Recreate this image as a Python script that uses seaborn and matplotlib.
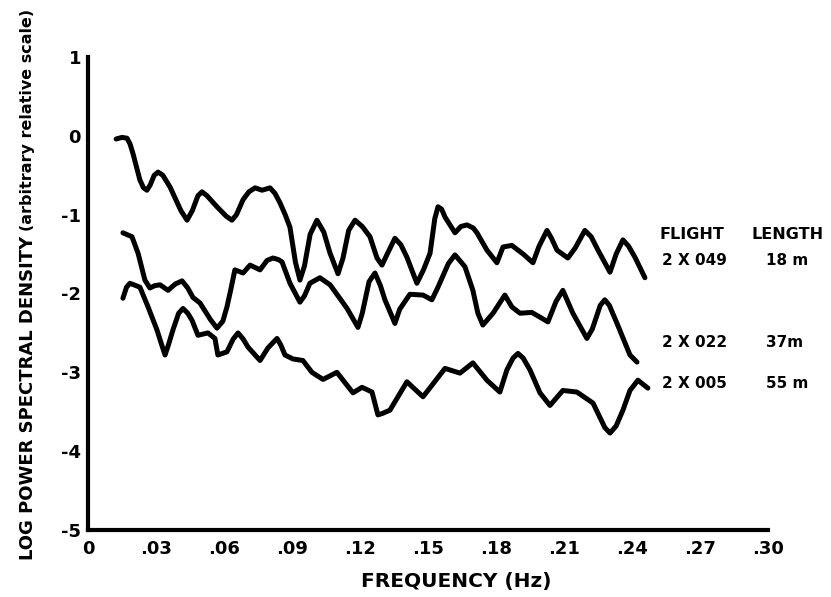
import matplotlib
matplotlib.use("Agg")
import matplotlib.pyplot as plt
import numpy as np
import pandas as pd
import seaborn as sns

# Spectra for the three flights (frequency in Hz, log power spectral density)
freq_2x049 = [0.0124, 0.0150, 0.0172, 0.0185, 0.0198, 0.0229, 0.0245, 0.0260, 0.0275, 0.0292,
              0.0309, 0.0330, 0.0362, 0.0410, 0.0437, 0.0460, 0.0485, 0.0503, 0.0525, 0.0569,
              0.0610, 0.0635, 0.0655, 0.0684, 0.0710, 0.0737, 0.0768, 0.0803, 0.0825, 0.0847,
              0.0870, 0.0891, 0.0915, 0.0935, 0.0955, 0.0980, 0.1010, 0.1040, 0.1068, 0.1103,
              0.1125, 0.1150, 0.1178, 0.1210, 0.1244, 0.1275, 0.1297, 0.1320, 0.1354, 0.1380,
              0.1407, 0.1451, 0.1480, 0.1509, 0.1530, 0.1544, 0.1560, 0.1575, 0.1619, 0.1645,
              0.1672, 0.1700, 0.1716, 0.1760, 0.1804, 0.1831, 0.1870, 0.1920, 0.1963, 0.1990,
              0.2025, 0.2045, 0.2069, 0.2117, 0.2150, 0.2192, 0.2220, 0.2250, 0.2303, 0.2330,
              0.2360, 0.2385, 0.2413, 0.2457]
psd_2x049 = [-0.04, -0.02, -0.03, -0.10, -0.22, -0.56, -0.66, -0.69, -0.62, -0.50,
             -0.46, -0.50, -0.65, -0.95, -1.07, -0.95, -0.76, -0.71, -0.76, -0.90,
             -1.02, -1.07, -1.00, -0.81, -0.71, -0.66, -0.69, -0.66, -0.73, -0.85,
             -1.00, -1.16, -1.60, -1.83, -1.65, -1.25, -1.07, -1.22, -1.49, -1.75,
             -1.55, -1.20, -1.07, -1.15, -1.28, -1.55, -1.64, -1.50, -1.30, -1.38,
             -1.54, -1.87, -1.70, -1.49, -1.05, -0.90, -0.93, -1.03, -1.23, -1.15,
             -1.13, -1.17, -1.23, -1.45, -1.61, -1.41, -1.39, -1.50, -1.61, -1.40,
             -1.20, -1.30, -1.45, -1.55, -1.42, -1.20, -1.28, -1.45, -1.73, -1.50,
             -1.32, -1.40, -1.54, -1.80]

freq_2x022 = [0.0154, 0.0194, 0.0221, 0.0251, 0.0273, 0.0295, 0.0318, 0.0353, 0.0385, 0.0415,
              0.0440, 0.0463, 0.0494, 0.0540, 0.0569, 0.0595, 0.0613, 0.0630, 0.0648, 0.0684,
              0.0715, 0.0759, 0.0790, 0.0816, 0.0840, 0.0856, 0.0891, 0.0935, 0.0955, 0.0979,
              0.1023, 0.1068, 0.1143, 0.1191, 0.1210, 0.1240, 0.1266, 0.1290, 0.1310, 0.1354,
              0.1375, 0.1420, 0.1478, 0.1517, 0.1544, 0.1590, 0.1619, 0.1663, 0.1698, 0.1720,
              0.1742, 0.1787, 0.1839, 0.1870, 0.1906, 0.1958, 0.1994, 0.2029, 0.2065, 0.2095,
              0.2139, 0.2201, 0.2225, 0.2260, 0.2280, 0.2300, 0.2334, 0.2391, 0.2422]
psd_2x022 = [-1.23, -1.28, -1.49, -1.83, -1.93, -1.90, -1.89, -1.96, -1.88, -1.84,
             -1.93, -2.05, -2.12, -2.33, -2.44, -2.35, -2.17, -1.95, -1.70, -1.74,
             -1.64, -1.70, -1.58, -1.55, -1.57, -1.60, -1.87, -2.11, -2.03, -1.87,
             -1.80, -1.89, -2.19, -2.43, -2.25, -1.85, -1.74, -1.90, -2.08, -2.38,
             -2.20, -2.01, -2.02, -2.08, -1.92, -1.62, -1.51, -1.66, -1.96, -2.25,
             -2.40, -2.25, -2.02, -2.17, -2.25, -2.24, -2.30, -2.36, -2.10, -1.96,
             -2.25, -2.57, -2.45, -2.15, -2.08, -2.15, -2.38, -2.78, -2.87]

freq_2x005 = [0.0154, 0.0170, 0.0185, 0.0229, 0.0265, 0.0304, 0.0325, 0.0340, 0.0355, 0.0375,
              0.0400, 0.0419, 0.0440, 0.0459, 0.0485, 0.0529, 0.0560, 0.0573, 0.0613, 0.0640,
              0.0662, 0.0685, 0.0706, 0.0759, 0.0794, 0.0834, 0.0850, 0.0869, 0.0904, 0.0948,
              0.0988, 0.1037, 0.1098, 0.1169, 0.1209, 0.1253, 0.1279, 0.1300, 0.1332, 0.1407,
              0.1478, 0.1575, 0.1641, 0.1698, 0.1760, 0.1817, 0.1848, 0.1875, 0.1897, 0.1920,
              0.1950, 0.1994, 0.2038, 0.2095, 0.2157, 0.2228, 0.2280, 0.2303, 0.2330, 0.2360,
              0.2391, 0.2426, 0.2470]
psd_2x005 = [-2.06, -1.92, -1.87, -1.92, -2.17, -2.46, -2.65, -2.78, -2.65, -2.46,
             -2.25, -2.19, -2.25, -2.34, -2.53, -2.50, -2.57, -2.78, -2.74, -2.58,
             -2.50, -2.58, -2.68, -2.85, -2.69, -2.57, -2.65, -2.78, -2.83, -2.85,
             -3.00, -3.09, -3.00, -3.26, -3.19, -3.25, -3.54, -3.52, -3.48, -3.12,
             -3.31, -2.95, -3.01, -2.88, -3.10, -3.25, -2.97, -2.82, -2.76, -2.82,
             -2.97, -3.26, -3.42, -3.23, -3.25, -3.39, -3.70, -3.77, -3.68, -3.48,
             -3.23, -3.10, -3.20]

flights = ["2X049", "2X022", "2X005"]
flight_labels = ["2 X 049", "2 X 022", "2 X 005"]
lengths = ["18 m", "37m", "55 m"]

x_ticks = [0, 0.03, 0.06, 0.09, 0.12, 0.15, 0.18, 0.21, 0.24, 0.27, 0.30]
x_ticklabels = ["0", ".03", ".06", ".09", ".12", ".15", ".18", ".21", ".24", ".27", ".30"]
y_ticks = [-5, -4, -3, -2, -1, 0, 1]
y_ticklabels = ["-5", "-4", "-3", "-2", "-1", "0", "1"]

df = pd.concat([
    pd.DataFrame({"freq": freq_2x049, "psd": psd_2x049, "flight": flights[0]}),
    pd.DataFrame({"freq": freq_2x022, "psd": psd_2x022, "flight": flights[1]}),
    pd.DataFrame({"freq": freq_2x005, "psd": psd_2x005, "flight": flights[2]}),
], ignore_index=True)

sns.set_theme(style="white")
plt.rcParams["font.family"] = ["DejaVu Sans"]
plt.rcParams.update({"text.color": "black", "axes.labelcolor": "black",
                     "xtick.color": "black", "ytick.color": "black"})

fig = plt.figure(figsize=(8.31, 5.97), dpi=100)
ax = fig.add_axes([88 / 831, 1 - 530 / 597, 680 / 831, 473 / 597])

sns.lineplot(data=df, x="freq", y="psd", hue="flight", units="flight", estimator=None,
             palette=["black"] * 3, legend=False, sort=False, ax=ax,
             linewidth=3.6, solid_joinstyle="round", solid_capstyle="round")

ax.set_xlim(0, 0.30)
ax.set_ylim(-5, 1)

for side in ["top", "right"]:
    ax.spines[side].set_visible(False)
for side in ["left", "bottom"]:
    ax.spines[side].set_linewidth(3)
    ax.spines[side].set_color("black")

ax.set_xticks(x_ticks)
ax.set_xticklabels(x_ticklabels, fontsize=13, fontweight="bold", color="black")
ax.set_yticks(y_ticks)
ax.set_yticklabels(y_ticklabels, fontsize=13, fontweight="bold", color="black")
ax.tick_params(axis="y", direction="in", length=10, width=2.2, pad=5, colors="black")
ax.tick_params(axis="x", direction="in", length=0, width=2.2, pad=7, colors="black")
# only the end of the frequency axis carries an upturned tick
ax.xaxis.get_major_ticks()[-1].tick1line.set_markersize(11)

ax.set_xlabel("")
ax.set_ylabel("")
fig.text(456 / 831, 1 - 582 / 597, "FREQUENCY (Hz)", ha="center", va="center",
         fontsize=14.5, fontweight="bold", color="black")
fig.text(28 / 831, 1 - 560 / 597, "LOG POWER SPECTRAL DENSITY", rotation=90,
         ha="center", va="bottom", fontsize=13, fontweight="bold", color="black")
fig.text(28 / 831, 1 - 231 / 597, "(arbitrary relative scale)", rotation=90,
         ha="center", va="bottom", fontsize=11.5, fontweight="bold", color="black")

# flight / length annotations
ax.text(0.2523, -1.25, "FLIGHT", fontsize=11.5, fontweight="bold", va="center",
        color="black", clip_on=False)
ax.text(0.2929, -1.25, "LENGTH", fontsize=11.5, fontweight="bold", va="center",
        color="black", clip_on=False)
for lab, ln, yv in zip(flight_labels, lengths, [-1.58, -2.62, -3.14]):
    ax.text(0.2532, yv, lab, fontsize=11, fontweight="bold", va="center",
            color="black", clip_on=False)
    ax.text(0.2990, yv, ln, fontsize=11, fontweight="bold", va="center",
            color="black", clip_on=False)

fig.savefig("out.png", dpi=100)
